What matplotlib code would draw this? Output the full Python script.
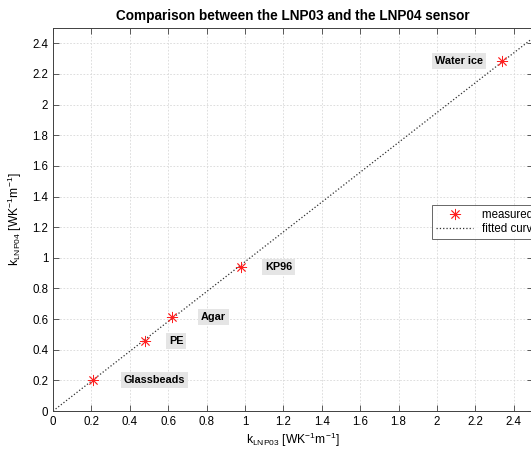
import matplotlib.pyplot as plt
import numpy as np

plt.rcParams['font.family'] = ['Liberation Sans', 'DejaVu Sans']
plt.rcParams['mathtext.fontset'] = 'custom'
plt.rcParams['mathtext.rm'] = 'Liberation Sans'
plt.rcParams['mathtext.it'] = 'Liberation Sans'

materials = ['Glassbeads', 'PE', 'Agar', 'KP96', 'Water ice']
k_lnp03 = [0.21, 0.48, 0.62, 0.98, 2.34]
k_lnp04 = [0.20, 0.457, 0.615, 0.94, 2.285]
ticks = [0, 0.2, 0.4, 0.6, 0.8, 1, 1.2, 1.4, 1.6, 1.8, 2, 2.2, 2.4]

x = np.array(k_lnp03)
y = np.array(k_lnp04)
slope = np.sum(x * y) / np.sum(x * x)

fig = plt.figure(figsize=(5.31, 4.5), dpi=100)
ax = fig.add_axes([53/531, 39/450, 480/531, 383/450])

xf = np.linspace(0, 2.6, 50)
ax.plot(xf, slope * xf, ls=':', color='#303030', lw=0.9, label='fitted curve', zorder=2)
ax.plot(x, y, ls='none', marker=(8, 2, 0), ms=8, mew=0.6, color='#ff2020',
        label='measured k values', zorder=3)

# label offsets in points
offs = [(22, 0), (17, 0), (21, 0), (17, 0), (-14, 0)]
for name, xi, yi, o in zip(materials, x, y, offs):
    ax.annotate(name, (xi, yi), xytext=o, textcoords='offset points',
                ha='left' if o[0] > 0 else 'right', va='center',
                fontsize=7.8, fontweight='bold',
                bbox=dict(boxstyle='square,pad=0.28', fc='#e5e5e5', ec='none'))

ax.set_xlim(0, 2.5)
ax.set_ylim(0, 2.5)
ax.set_xticks(ticks)
ax.set_yticks(ticks)
ax.set_xticklabels([f'{t:g}' for t in ticks])
ax.set_yticklabels([f'{t:g}' for t in ticks])
ax.tick_params(direction='in', top=True, right=True, labelsize=8.3, length=4,
               color='#404040', width=0.6)
for s in ax.spines.values():
    s.set_color('#404040')
    s.set_linewidth(0.7)
ax.grid(True, ls=(0, (2, 2)), color='#d8d8d8', lw=0.6)
ax.set_axisbelow(True)

ax.set_title('Comparison between the LNP03 and the LNP04 sensor',
             fontsize=9.8, fontweight='bold', pad=6)
ax.set_xlabel(r'k$_{\mathrm{LNP03}}$ [WK$^{-1}$m$^{-1}$]', fontsize=8.7, labelpad=2)
ax.set_ylabel(r'k$_{\mathrm{LNP04}}$ [WK$^{-1}$m$^{-1}$]', fontsize=8.7, labelpad=6)

h, l = ax.get_legend_handles_labels()
leg = ax.legend(h[::-1], l[::-1], loc='upper left', bbox_to_anchor=(0.79, 0.538),
                fontsize=8.3, frameon=True, fancybox=False, borderaxespad=0,
                handlelength=3.2, labelspacing=0.15, borderpad=0.35, handletextpad=0.8)
leg.get_frame().set_edgecolor('#404040')
leg.get_frame().set_linewidth(0.7)

fig.savefig('out.png', dpi=100)
